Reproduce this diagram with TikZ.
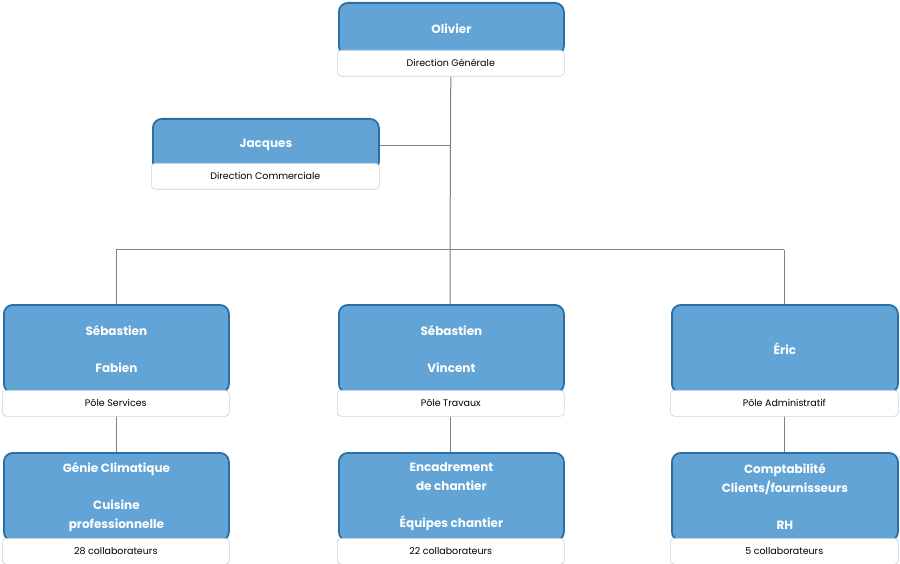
\documentclass[tikz,border=0pt]{standalone}
\usepackage{fontspec}
\setmainfont{Poppins}
\begin{document}
\begin{tikzpicture}[x=1pt,y=-1pt,
 blue/.style={draw=bordc,fill=fillc,line width=1.8pt,rounded corners=9pt,anchor=north west,inner sep=0pt,text=white,font=\bfseries\fontsize{12}{19}\selectfont,align=center},
 lab/.style={draw=labc,fill=white,line width=0.6pt,rounded corners=4pt,anchor=north west,inner sep=0pt,font=\fontsize{9.5}{11}\selectfont},
 con/.style={draw=linec,line width=1pt}]
\definecolor{fillc}{HTML}{62A4D6}
\definecolor{bordc}{HTML}{2A6FA5}
\definecolor{labc}{HTML}{C8D3DE}
\definecolor{linec}{HTML}{808080}
\useasboundingbox (0,0) rectangle (900,564);
\newcommand\orgbox[8]{% name x y w h text labely label
 \node[blue,minimum width=#4,minimum height=#5] (#1) at (#2,#3) {#6};
 \node[lab,minimum width=#4+2,minimum height=26] (#1l) at (#2-1,#7) {#8};}
\coordinate (j) at (450,146);
\coordinate (h) at (450,250);
\coordinate (hl) at (116,250);
\coordinate (hr) at (784,250);
\orgbox{o}{338}{2}{225}{52}{Olivier}{50}{Direction Générale}
\orgbox{ja}{152}{118}{226}{52}{Jacques}{163}{Direction Commerciale}
\draw[con] (ol.south) -- (h) -- (450,304);
\draw[con] (jal.east|-j) -- (j);
\draw[con] (hl) -- (hr);
\draw[con] (hl) -- (116,304);
\draw[con] (hr) -- (784,304);
\draw[con] (116,415) -- (116,452);
\draw[con] (450,415) -- (450,452);
\draw[con] (784,415) -- (784,452);
\orgbox{a}{3}{304}{225}{88}{Sébastien\\[18pt]Fabien}{390}{Pôle Services}
\orgbox{b}{338}{304}{225}{88}{Sébastien\\[18pt]Vincent}{390}{Pôle Travaux}
\orgbox{c}{671}{304}{226}{88}{Éric}{390}{Pôle Administratif}
\orgbox{d}{3}{452}{225}{88}{Génie Climatique\\[18pt]Cuisine\\professionnelle}{538}{28 collaborateurs}
\orgbox{e}{338}{452}{225}{88}{Encadrement\\de chantier\\[18pt]Équipes chantier}{538}{22 collaborateurs}
\orgbox{f}{671}{452}{226}{88}{Comptabilité\\Clients/fournisseurs\\[18pt]RH}{538}{5 collaborateurs}
\end{tikzpicture}
\end{document}
